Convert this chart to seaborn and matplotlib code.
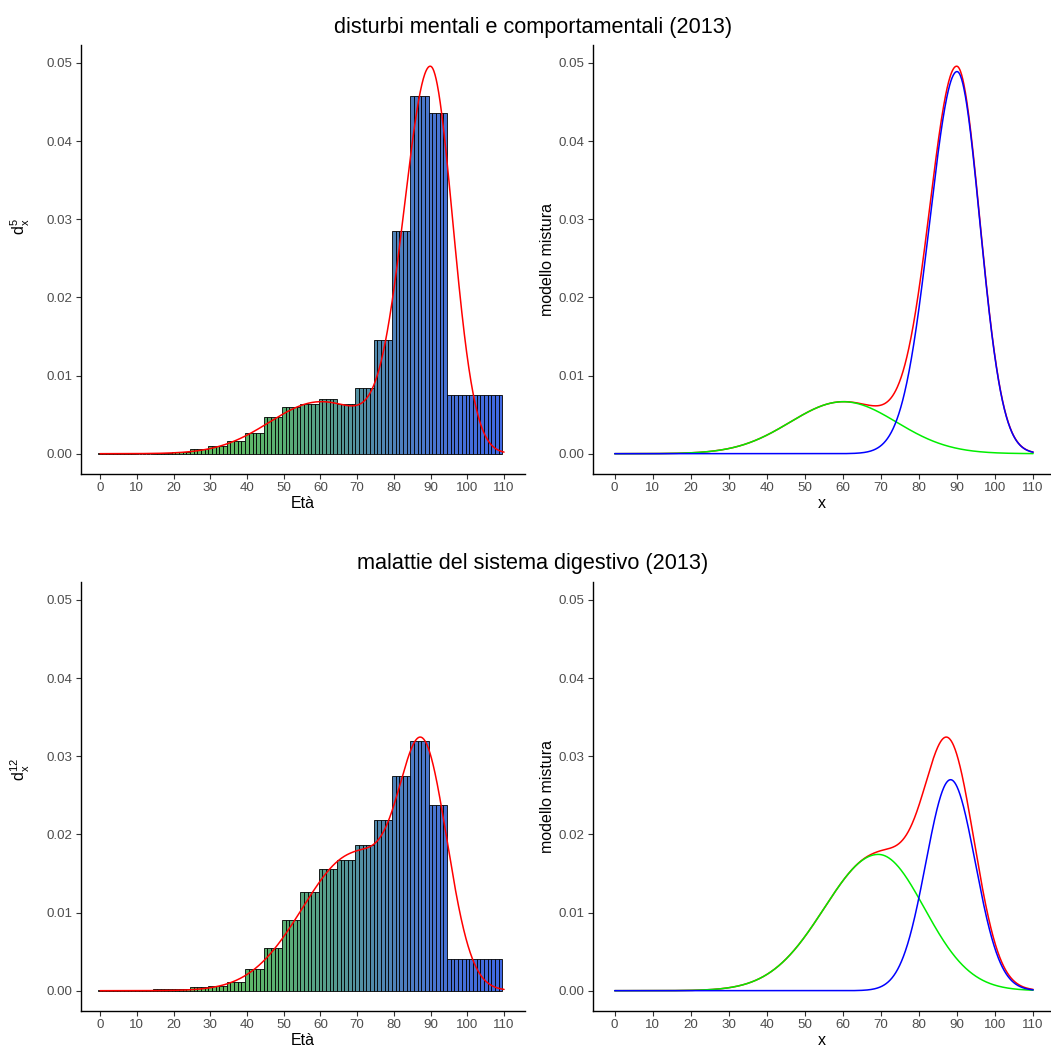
import numpy as np
import pandas as pd
import matplotlib
matplotlib.use("Agg")
import matplotlib.pyplot as plt
import seaborn as sns

# ---------------- data ----------------
group_start = [0, 5, 10, 15, 20, 25, 30, 35, 40, 45, 50, 55, 60, 65, 70, 75, 80, 85, 90, 95]
group_width = [5] * 19 + [15]          # last group: 95-109
d5_values = [0.00003, 0.00004, 0.00002, 0.00004, 0.00026, 0.00060, 0.00094, 0.00160,
             0.00270, 0.00465, 0.00600, 0.00640, 0.00700, 0.00630, 0.00840, 0.01454,
             0.02848, 0.04578, 0.04356, 0.00755]
d12_values = [0.00012, 0.00003, 0.00003, 0.00017, 0.00017, 0.00043, 0.00064, 0.00110,
              0.00280, 0.00550, 0.00900, 0.01265, 0.01560, 0.01670, 0.01870, 0.02180,
              0.02750, 0.03190, 0.02370, 0.00410]

# mixture components (peak height, mode, left / right spread)
top_peak = [0.00665, 0.0489]
top_mode = [60.1, 90.0]
top_sd_left = [14.0, 7.2]
top_sd_right = [14.0, 6.0]

bot_peak = [0.01744, 0.0270]
bot_mode = [69.3, 88.3]
bot_sd_left = [14.2, 6.5]
bot_sd_right = [12.1, 6.5]

titles = ["disturbi mentali e comportamentali (2013)", "malattie del sistema digestivo (2013)"]
ylabels_left = [r"$\mathregular{d_x^{5}}$", r"$\mathregular{d_x^{12}}$"]
x_ticks = list(range(0, 111, 10))
y_ticks = [0.00, 0.01, 0.02, 0.03, 0.04, 0.05]
y_tick_labels = ["0.00", "0.01", "0.02", "0.03", "0.04", "0.05"]

# bar fill gradient (age -> colour)
grad_ages = [0, 35, 50, 62, 72, 82, 92, 109]
grad_cols = ["#60BE5E", "#5FBA62", "#59AE74", "#569E8C", "#528DA6", "#4E7FBE", "#4873D2", "#4068E2"]

# ---------------- style ----------------
sns.set_theme(style="ticks")
plt.rcParams["font.family"] = ["Liberation Sans", "DejaVu Sans"]
plt.rcParams["mathtext.fontset"] = "custom"
plt.rcParams["mathtext.rm"] = "Liberation Sans"
plt.rcParams["mathtext.it"] = "Liberation Sans"

W, H = 1051, 1050
fig = plt.figure(figsize=(W / 100, H / 100), dpi=100)


def px_axes(l, r, t, b):
    return fig.add_axes([l / W, 1 - b / H, (r - l) / W, (b - t) / H])


grad_rgb = np.array([matplotlib.colors.to_rgb(c) for c in grad_cols])


def age_colour(a):
    return tuple(np.interp(a, grad_ages, grad_rgb[:, k]) for k in range(3))


def component(x, peak, mode, sl, sr):
    s = np.where(x < mode, sl, sr)
    return peak * np.exp(-0.5 * ((x - mode) / s) ** 2)


def style_axes(ax, xlim):
    ax.set_xlim(*xlim)
    ax.set_ylim(-0.0026, 0.0523)
    ax.set_xticks(x_ticks)
    ax.set_xticklabels([str(t) for t in x_ticks])
    ax.set_yticks(y_ticks)
    ax.set_yticklabels(y_tick_labels)
    for s in ["top", "right"]:
        ax.spines[s].set_visible(False)
    for s in ["left", "bottom"]:
        ax.spines[s].set_color("black")
        ax.spines[s].set_linewidth(1.0)
    ax.tick_params(axis="both", length=3.5, width=0.8, color="#333333",
                   labelcolor="#4D4D4D", labelsize=9.6, pad=2.5)
    ax.grid(False)
    ax.set_facecolor("white")


ages = np.arange(0, 110)
xgrid = np.linspace(0, 110, 1101)

rows = [
    (d5_values, top_peak, top_mode, top_sd_left, top_sd_right, 45, 474),
    (d12_values, bot_peak, bot_mode, bot_sd_left, bot_sd_right, 582, 1011),
]

for i, (vals, pk, md, sl, sr, top, bot) in enumerate(rows):
    per_year = np.repeat(vals, group_width)
    df = pd.DataFrame({"age": ages, "d": per_year})
    cols = [age_colour(a) for a in df["age"]]

    comps = [component(xgrid, pk[k], md[k], sl[k], sr[k]) for k in range(2)]
    total = comps[0] + comps[1]
    curves = pd.DataFrame({"x": xgrid, "green": comps[0], "blue": comps[1], "red": total})

    # left: histogram + mixture
    axl = px_axes(81, 525, top, bot)
    axl.bar(df["age"], df["d"], width=1.0, color=cols, edgecolor="black", linewidth=0.6)
    sns.lineplot(data=curves, x="x", y="red", color="#FF0000", linewidth=1.1, ax=axl)
    style_axes(axl, (-5.2, 115.7))
    axl.set_xlabel("Età", fontsize=11.5, color="black", labelpad=1.5)
    axl.set_ylabel("")

    # right: components
    axr = px_axes(593, 1051, top, bot)
    sns.lineplot(data=curves, x="x", y="red", color="#FF0000", linewidth=1.1, ax=axr)
    sns.lineplot(data=curves, x="x", y="green", color="#00EE00", linewidth=1.1, ax=axr)
    sns.lineplot(data=curves, x="x", y="blue", color="#0000FF", linewidth=1.1, ax=axr)
    style_axes(axr, (-5.7, 114.7))
    axr.set_xlabel("x", fontsize=11.5, color="black", labelpad=1.5)
    axr.set_ylabel("modello mistura", fontsize=11.5, color="black", labelpad=3)

    # titles and left y-label
    title_y = 27 if i == 0 else 563
    fig.text(533 / W, 1 - title_y / H, titles[i], ha="center", va="center",
             fontsize=15.6, color="black")
    lab_y = 227 if i == 0 else 770
    fig.text(20 / W, 1 - lab_y / H, ylabels_left[i], ha="center", va="center",
             rotation=90, fontsize=11.5, color="black")

fig.savefig("out.png", dpi=100, facecolor="white")
